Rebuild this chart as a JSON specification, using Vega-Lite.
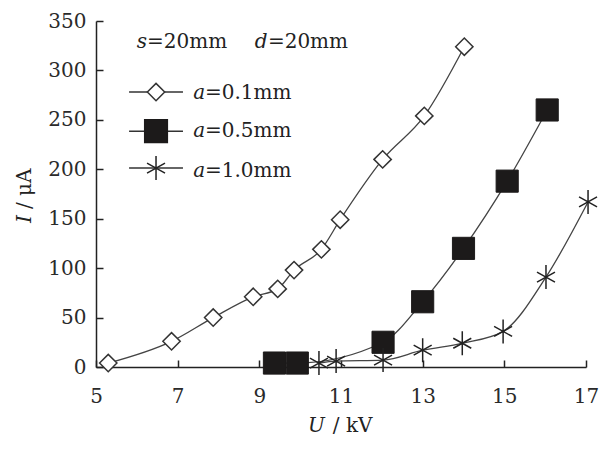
{
  "$schema": "https://vega.github.io/schema/vega-lite/v6.json",
  "width": 490,
  "height": 346,
  "autosize": {"type": "none"},
  "padding": {"left": 96, "top": 21, "right": 14, "bottom": 101},
  "background": "white",
  "config": {"view": {"stroke": null}, "font": "DejaVu Serif", "text": {"font": "DejaVu Serif", "fontSize": 20, "color": "#222"}},
  "datasets": {
    "curves": [
      {"series": "a=0.1mm", "U": 5.3, "I": 4},
      {"series": "a=0.1mm", "U": 6.85, "I": 26},
      {"series": "a=0.1mm", "U": 7.87, "I": 50},
      {"series": "a=0.1mm", "U": 8.85, "I": 71},
      {"series": "a=0.1mm", "U": 9.45, "I": 79},
      {"series": "a=0.1mm", "U": 9.85, "I": 98},
      {"series": "a=0.1mm", "U": 10.52, "I": 119},
      {"series": "a=0.1mm", "U": 10.98, "I": 149},
      {"series": "a=0.1mm", "U": 12.02, "I": 210},
      {"series": "a=0.1mm", "U": 13.04, "I": 254},
      {"series": "a=0.1mm", "U": 14.02, "I": 324},
      {"series": "a=0.5mm", "U": 9.37, "I": 4},
      {"series": "a=0.5mm", "U": 9.93, "I": 4},
      {"series": "a=0.5mm", "U": 12.03, "I": 25},
      {"series": "a=0.5mm", "U": 13.0, "I": 66},
      {"series": "a=0.5mm", "U": 14.0, "I": 120},
      {"series": "a=0.5mm", "U": 15.07, "I": 188},
      {"series": "a=0.5mm", "U": 16.05, "I": 260},
      {"series": "a=1.0mm", "U": 10.46, "I": 4},
      {"series": "a=1.0mm", "U": 10.88, "I": 6},
      {"series": "a=1.0mm", "U": 12.03, "I": 7},
      {"series": "a=1.0mm", "U": 13.0, "I": 17},
      {"series": "a=1.0mm", "U": 13.97, "I": 24},
      {"series": "a=1.0mm", "U": 14.97, "I": 36},
      {"series": "a=1.0mm", "U": 16.02, "I": 91},
      {"series": "a=1.0mm", "U": 17.05, "I": 167}
    ],
    "notes": [
      {"note": "a=0.1mm"}
    ]
  },
  "layer": [
    {"data": {"name": "curves"},
     "mark": {"type": "line", "interpolate": "monotone", "color": "#444", "strokeWidth": 1.3},
     "encoding": {
       "x": {"field": "U", "type": "quantitative",
         "scale": {"domain": [5, 17], "nice": false, "zero": false},
         "axis": {"values": [5, 7, 9, 11, 13, 15, 17], "tickSize": -7, "labelPadding": 26, "labelFontSize": 20, "labelFont": "DejaVu Serif", "labelColor": "#2a2a2a", "domainColor": "#222", "domainWidth": 1.5, "tickColor": "#222", "tickWidth": 1.5, "grid": false, "title": null, "labelFlush": false}},
       "y": {"field": "I", "type": "quantitative",
         "scale": {"domain": [0, 350], "nice": false, "zero": false},
         "axis": {"values": [0, 50, 100, 150, 200, 250, 300, 350], "tickSize": -7, "labelPadding": 17, "labelFontSize": 20, "labelFont": "DejaVu Serif", "labelColor": "#2a2a2a", "domainColor": "#222", "domainWidth": 1.5, "tickColor": "#222", "tickWidth": 1.5, "grid": false, "title": null, "labelFlush": false}},
       "detail": {"field": "series"}}},
    {"data": {"name": "curves"},
     "transform": [{"filter": "datum.series == 'a=0.1mm'"}],
     "mark": {"type": "point", "shape": "diamond", "size": 300, "filled": true, "fill": "white", "stroke": "#333", "strokeWidth": 1.5, "opacity": 1},
     "encoding": {"x": {"field": "U", "type": "quantitative"}, "y": {"field": "I", "type": "quantitative"}}},
    {"data": {"name": "curves"},
     "transform": [{"filter": "datum.series == 'a=0.5mm'"}],
     "mark": {"type": "point", "shape": "square", "size": 490, "filled": true, "fill": "#1c1a1a", "stroke": "#1c1a1a", "strokeWidth": 1, "opacity": 1},
     "encoding": {"x": {"field": "U", "type": "quantitative"}, "y": {"field": "I", "type": "quantitative"}}},
    {"data": {"name": "curves"},
     "transform": [{"filter": "datum.series == 'a=1.0mm'"}],
     "mark": {"type": "point", "shape": "M0,-1.2L0,1.2M-0.9,-0.5L0.9,0.5M-0.9,0.5L0.9,-0.5", "size": 400, "filled": false, "stroke": "#222", "strokeWidth": 1.5, "opacity": 1},
     "encoding": {"x": {"field": "U", "type": "quantitative"}, "y": {"field": "I", "type": "quantitative"}}},

    {"data": {"name": "notes"}, "mark": {"type": "rule", "color": "#333", "strokeWidth": 1.5},
     "encoding": {"x": {"datum": 5.81, "type": "quantitative"}, "x2": {"datum": 7.13}, "y": {"datum": 278.1, "type": "quantitative"}}},
    {"data": {"name": "notes"}, "mark": {"type": "rule", "color": "#333", "strokeWidth": 1.5},
     "encoding": {"x": {"datum": 5.81, "type": "quantitative"}, "x2": {"datum": 7.13}, "y": {"datum": 238.6, "type": "quantitative"}}},
    {"data": {"name": "notes"}, "mark": {"type": "rule", "color": "#333", "strokeWidth": 1.5},
     "encoding": {"x": {"datum": 5.81, "type": "quantitative"}, "x2": {"datum": 7.13}, "y": {"datum": 201.2, "type": "quantitative"}}},
    {"data": {"name": "notes"}, "mark": {"type": "point", "shape": "diamond", "size": 300, "filled": true, "fill": "white", "stroke": "#333", "strokeWidth": 1.5, "opacity": 1},
     "encoding": {"x": {"datum": 6.47, "type": "quantitative"}, "y": {"datum": 278.1, "type": "quantitative"}}},
    {"data": {"name": "notes"}, "mark": {"type": "point", "shape": "square", "size": 490, "filled": true, "fill": "#1c1a1a", "stroke": "#1c1a1a", "opacity": 1},
     "encoding": {"x": {"datum": 6.47, "type": "quantitative"}, "y": {"datum": 238.6, "type": "quantitative"}}},
    {"data": {"name": "notes"}, "mark": {"type": "point", "shape": "M0,-1.2L0,1.2M-0.9,-0.5L0.9,0.5M-0.9,0.5L0.9,-0.5", "size": 400, "filled": false, "stroke": "#222", "strokeWidth": 1.5, "opacity": 1},
     "encoding": {"x": {"datum": 6.47, "type": "quantitative"}, "y": {"datum": 201.2, "type": "quantitative"}}},

    {"data": {"name": "notes"}, "mark": {"type": "text", "text": "a", "fontStyle": "italic", "align": "left", "baseline": "alphabetic"},
     "encoding": {"x": {"datum": 7.38, "type": "quantitative"}, "y": {"datum": 270.6, "type": "quantitative"}}},
    {"data": {"name": "notes"}, "mark": {"type": "text", "text": "=0.1mm", "align": "left", "baseline": "alphabetic"},
     "encoding": {"x": {"datum": 7.67, "type": "quantitative"}, "y": {"datum": 270.6, "type": "quantitative"}}},
    {"data": {"name": "notes"}, "mark": {"type": "text", "text": "a", "fontStyle": "italic", "align": "left", "baseline": "alphabetic"},
     "encoding": {"x": {"datum": 7.38, "type": "quantitative"}, "y": {"datum": 232.2, "type": "quantitative"}}},
    {"data": {"name": "notes"}, "mark": {"type": "text", "text": "=0.5mm", "align": "left", "baseline": "alphabetic"},
     "encoding": {"x": {"datum": 7.67, "type": "quantitative"}, "y": {"datum": 232.2, "type": "quantitative"}}},
    {"data": {"name": "notes"}, "mark": {"type": "text", "text": "a", "fontStyle": "italic", "align": "left", "baseline": "alphabetic"},
     "encoding": {"x": {"datum": 7.38, "type": "quantitative"}, "y": {"datum": 192.3, "type": "quantitative"}}},
    {"data": {"name": "notes"}, "mark": {"type": "text", "text": "=1.0mm", "align": "left", "baseline": "alphabetic"},
     "encoding": {"x": {"datum": 7.67, "type": "quantitative"}, "y": {"datum": 192.3, "type": "quantitative"}}},

    {"data": {"name": "notes"}, "mark": {"type": "text", "text": "s", "fontStyle": "italic", "align": "left", "baseline": "alphabetic"},
     "encoding": {"x": {"datum": 6.0, "type": "quantitative"}, "y": {"datum": 322.6, "type": "quantitative"}}},
    {"data": {"name": "notes"}, "mark": {"type": "text", "text": "=20mm", "align": "left", "baseline": "alphabetic"},
     "encoding": {"x": {"datum": 6.25, "type": "quantitative"}, "y": {"datum": 322.6, "type": "quantitative"}}},
    {"data": {"name": "notes"}, "mark": {"type": "text", "text": "d", "fontStyle": "italic", "align": "left", "baseline": "alphabetic"},
     "encoding": {"x": {"datum": 8.89, "type": "quantitative"}, "y": {"datum": 322.6, "type": "quantitative"}}},
    {"data": {"name": "notes"}, "mark": {"type": "text", "text": "=20mm", "align": "left", "baseline": "alphabetic"},
     "encoding": {"x": {"datum": 9.21, "type": "quantitative"}, "y": {"datum": 322.6, "type": "quantitative"}}},

    {"data": {"name": "notes"}, "mark": {"type": "text", "text": "U", "fontStyle": "italic", "align": "left", "baseline": "middle"},
     "encoding": {"x": {"datum": 10.19, "type": "quantitative"}, "y": {"datum": -59.5, "type": "quantitative"}}},
    {"data": {"name": "notes"}, "mark": {"type": "text", "text": "/ kV", "align": "left", "baseline": "middle"},
     "encoding": {"x": {"datum": 10.8, "type": "quantitative"}, "y": {"datum": -59.5, "type": "quantitative"}}},
    {"data": {"name": "notes"}, "mark": {"type": "text", "text": "I", "fontStyle": "italic", "align": "left", "baseline": "middle", "angle": 270},
     "encoding": {"x": {"datum": 3.25, "type": "quantitative"}, "y": {"datum": 145.6, "type": "quantitative"}}},
    {"data": {"name": "notes"}, "mark": {"type": "text", "text": "/ μA", "align": "left", "baseline": "middle", "angle": 270},
     "encoding": {"x": {"datum": 3.25, "type": "quantitative"}, "y": {"datum": 159.8, "type": "quantitative"}}}
  ]
}
